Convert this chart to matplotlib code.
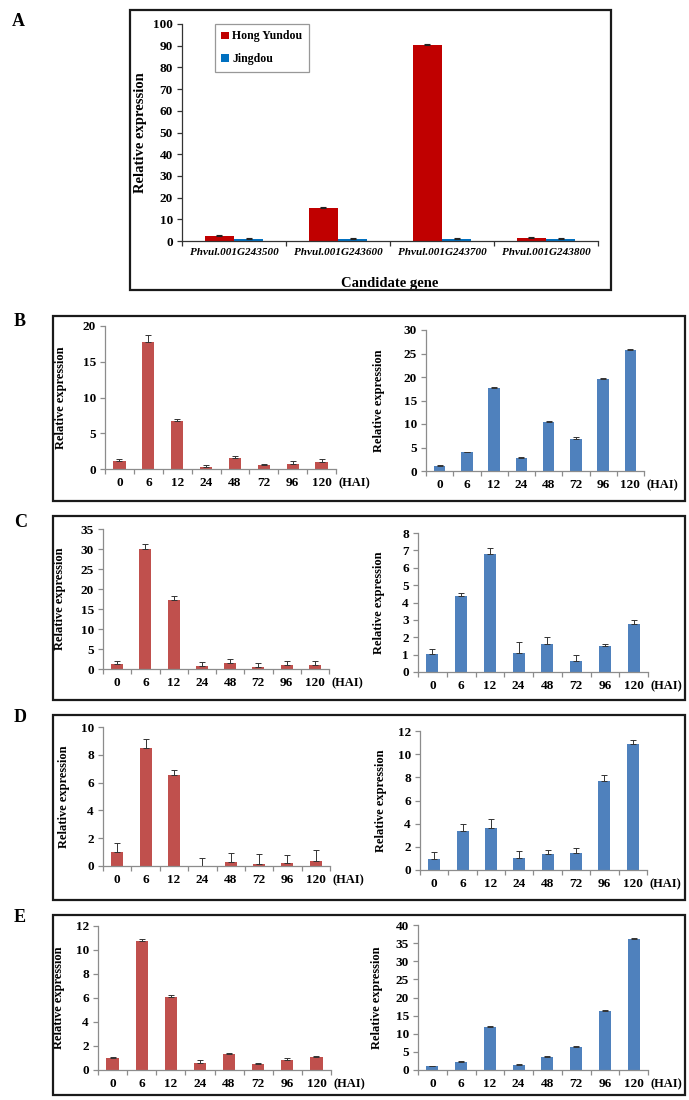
import matplotlib
matplotlib.use("Agg")
import matplotlib.pyplot as plt
from matplotlib.patches import Rectangle
import numpy as np

plt.rcParams['font.family'] = ['Liberation Serif', 'DejaVu Serif']
plt.rcParams['font.weight'] = 'bold'

# ---------------- data ----------------
genes = ['Phvul.001G243500', 'Phvul.001G243600', 'Phvul.001G243700', 'Phvul.001G243800']
hong_yundou = [2.2, 15.2, 90.3, 1.5]
hong_yundou_err = [0.5, 0.3, 0.5, 0.3]
jingdou = [1.1, 1.1, 1.1, 1.0]
jingdou_err = [0.3, 0.3, 0.3, 0.2]

hai = ['0', '6', '12', '24', '48', '72', '96', '120']

B_red = [1.05, 17.7, 6.75, 0.3, 1.5, 0.5, 0.7, 0.93]
B_red_err = [0.4, 1.1, 0.2, 0.3, 0.3, 0.2, 0.4, 0.45]
B_blue = [1.07, 3.98, 17.6, 2.77, 10.45, 6.9, 19.5, 25.66]
B_blue_err = [0.2, 0.12, 0.3, 0.28, 0.25, 0.4, 0.25, 0.2]

C_red = [1.17, 30.0, 17.3, 0.75, 1.4, 0.5, 0.9, 0.9]
C_red_err = [0.93, 1.2, 1.0, 1.1, 1.0, 1.1, 1.1, 1.1]
C_blue = [1.05, 4.35, 6.78, 1.07, 1.64, 0.63, 1.47, 2.77]
C_blue_err = [0.25, 0.21, 0.38, 0.65, 0.38, 0.34, 0.17, 0.23]

D_red = [0.98, 8.49, 6.55, 0.02, 0.26, 0.12, 0.24, 0.33]
D_red_err = [0.65, 0.67, 0.36, 0.58, 0.65, 0.72, 0.53, 0.82]
D_blue = [0.98, 3.36, 3.65, 1.03, 1.35, 1.46, 7.72, 10.9]
D_blue_err = [0.6, 0.6, 0.71, 0.57, 0.37, 0.44, 0.48, 0.3]

E_red = [1.0, 10.78, 6.07, 0.55, 1.3, 0.53, 0.83, 1.05]
E_red_err = [0.08, 0.12, 0.22, 0.28, 0.14, 0.05, 0.17, 0.09]
E_blue = [1.0, 2.1, 11.95, 1.38, 3.6, 6.35, 16.4, 36.1]
E_blue_err = [0.1, 0.3, 0.15, 0.18, 0.17, 0.15, 0.2, 0.2]

# ---------------- layout helpers ----------------
W, H = 689, 1100
fig = plt.figure(figsize=(W / 100, H / 100), dpi=100)

def ax_px(x0, x1, yt, yb):
    return fig.add_axes([x0 / W, 1 - yb / H, (x1 - x0) / W, (yb - yt) / H])

def frame_px(x0, x1, yt, yb, lw=1.6):
    fig.patches.append(Rectangle((x0 / W, 1 - yb / H), (x1 - x0) / W, (yb - yt) / H,
                                 transform=fig.transFigure, fill=False,
                                 edgecolor='#1a1a1a', linewidth=lw))

def letter(x, y, s):
    fig.text(x / W, 1 - y / H, s, fontsize=13, fontweight='bold', ha='left', va='center')

def style_axes(ax, ncat, xsize, ysize, axc):
    for s in ['top', 'right']:
        ax.spines[s].set_visible(False)
    for s in ['left', 'bottom']:
        ax.spines[s].set_color(axc)
        ax.spines[s].set_linewidth(0.9)
    ax.set_xlim(-0.5, ncat - 0.5)
    ax.set_xticks(np.arange(ncat))
    ax.set_xticks(np.arange(ncat + 1) - 0.5, minor=True)
    ax.tick_params(axis='x', which='major', length=0, pad=6, labelsize=xsize)
    ax.tick_params(axis='x', which='minor', length=3.5, color=axc, width=0.9)
    ax.tick_params(axis='y', length=3.5, color=axc, width=0.9, pad=3, labelsize=ysize)
    for t in ax.get_yticklabels():
        t.set_fontweight('bold')

# ---------------- Panel A ----------------
frame_px(130, 611, 10, 290)
letter(12, 22, 'A')
ax0, ax1 = 182, 598
axA = ax_px(ax0, ax1, 24, 241)
x = np.arange(len(genes))
w = 0.28
ek = dict(ecolor='#222222', elinewidth=0.8, capsize=2, capthick=0.8)
axA.bar(x - w / 2, hong_yundou, w, color='#C00000', label='Hong Yundou',
        yerr=[np.zeros(4), hong_yundou_err], error_kw=ek)
axA.bar(x + w / 2, jingdou, w, color='#0070C0', label='Jingdou',
        yerr=[np.zeros(4), jingdou_err], error_kw=ek)
style_axes(axA, 4, 8, 9.5, '#333333')
axA.set_ylim(0, 100)
axA.set_yticks(range(0, 101, 10))
axA.set_xticklabels(genes, fontstyle='italic', fontweight='bold', fontsize=8)
axA.tick_params(axis='x', which='major', pad=5)
axA.set_ylabel('Relative expression', fontsize=10.5, fontweight='bold')
axA.yaxis.set_label_coords((147 - ax0) / (ax1 - ax0), 0.5)
axA.set_xlabel('Candidate gene', fontsize=10.5, fontweight='bold')
axA.xaxis.set_label_coords(0.5, -(277 - 241) / (241 - 24))
leg = axA.legend(loc='upper left', bbox_to_anchor=((215 - ax0) / (ax1 - ax0), 1.0),
                 fontsize=8.5, frameon=True, fancybox=False, edgecolor='#7f7f7f',
                 handlelength=0.6, handleheight=0.6, handletextpad=0.3,
                 labelspacing=0.9, borderpad=0.55, borderaxespad=0)
leg.get_frame().set_linewidth(0.9)
for t in leg.get_texts():
    t.set_fontweight('bold')

# ---------------- Panels B-E ----------------
RED = '#C0504D'
BLUE = '#4F81BD'
AXC = '#8c8c8c'

panels = [
    ('B', 316, 501, 322,
     (105, 336, 326, 469, 67, B_red, B_red_err, 20, 5, RED),
     (426, 644, 330, 471, 385, B_blue, B_blue_err, 30, 5, BLUE)),
    ('C', 516, 700, 522,
     (103, 329, 529, 669, 66, C_red, C_red_err, 35, 5, RED),
     (418, 648, 533, 672, 385, C_blue, C_blue_err, 8, 1, BLUE)),
    ('D', 715, 900, 718,
     (103, 330, 727, 866, 70, D_red, D_red_err, 10, 2, RED),
     (420, 647, 731, 870, 387, D_blue, D_blue_err, 12, 2, BLUE)),
    ('E', 915, 1095, 918,
     (98, 331, 926, 1070, 65, E_red, E_red_err, 12, 2, RED),
     (418, 648, 925, 1070, 383, E_blue, E_blue_err, 40, 5, BLUE)),
]

xs = np.arange(len(hai))
bw = 0.42
for name, ft, fb, ly, left, right in panels:
    frame_px(53, 685, ft, fb)
    letter(14, ly, name)
    for (x0, x1, yt, yb, labx, vals, errs, ymax, step, col) in (left, right):
        ax = ax_px(x0, x1, yt, yb)
        ax.bar(xs, vals, bw, color=col,
               yerr=[np.zeros(len(vals)), errs],
               error_kw=dict(ecolor='#333333', elinewidth=0.7, capsize=2, capthick=0.7))
        style_axes(ax, len(hai), 9.5, 9.5, AXC)
        ax.set_ylim(0, ymax)
        ax.set_yticks(np.arange(0, ymax + 0.001, step))
        ax.set_xticklabels(hai, fontweight='bold', fontsize=9.5)
        ax.set_ylabel('Relative expression', fontsize=9, fontweight='bold')
        ax.yaxis.set_label_coords((labx - x0) / (x1 - x0), 0.5)
        ax.annotate('(HAI)', xy=(1, 0), xycoords='axes fraction',
                    xytext=(2, -10.5), textcoords='offset points',
                    ha='left', va='center', fontsize=9, fontweight='bold')

fig.savefig('out.png', dpi=100)
